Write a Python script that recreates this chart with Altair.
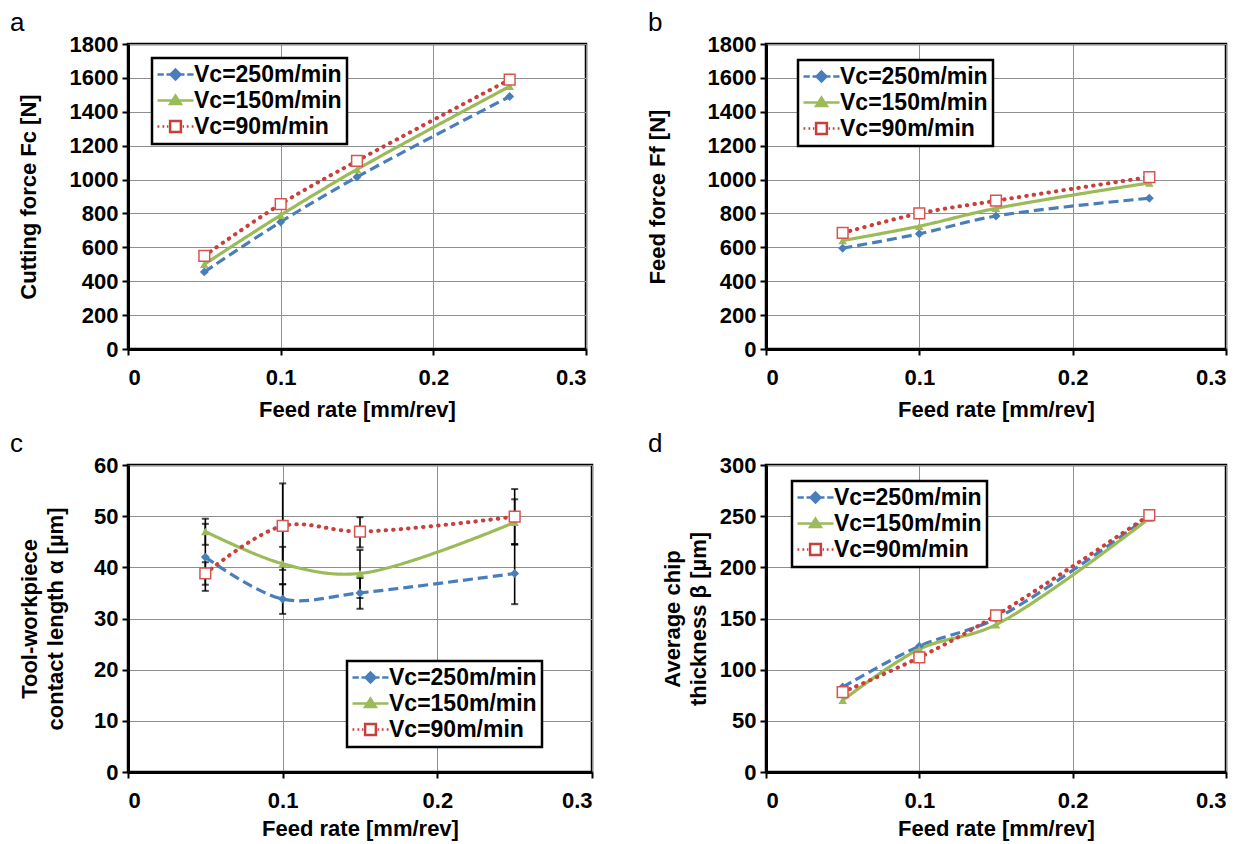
import altair as alt
import pandas as pd

feed = [0.05, 0.1, 0.15, 0.25]
series_names = ["Vc=250m/min", "Vc=150m/min", "Vc=90m/min"]
x_ticks = [0, 0.1, 0.2, 0.3]

# panel a: cutting force Fc [N]
fc_250 = [455, 750, 1015, 1490]
fc_150 = [500, 790, 1060, 1550]
fc_90 = [550, 855, 1110, 1590]

# panel b: feed force Ff [N]
ff_250 = [595, 680, 785, 890]
ff_150 = [640, 725, 830, 980]
ff_90 = [685, 800, 875, 1015]

# panel c: contact length [um] with error bars
cl_250 = [42.0, 33.8, 35.0, 38.8]
cl_150 = [47.0, 40.7, 38.8, 48.8]
cl_90 = [38.8, 48.1, 47.0, 49.9]
cl_250_lo = [35.4, 30.9, 31.9, 32.8]
cl_250_hi = [48.5, 36.7, 37.9, 44.5]
cl_150_lo = [44.4, 36.7, 34.0, 44.5]
cl_150_hi = [49.5, 44.0, 43.4, 53.3]
cl_90_lo = [36.6, 39.5, 43.9, 44.5]
cl_90_hi = [41.0, 56.4, 49.8, 55.3]

# panel d: average chip thickness [um]
ct_250 = [83, 123, 150, 250]
ct_150 = [70, 120, 144, 248]
ct_90 = [78, 112, 153, 251]

BLUE = "#4A7EBB"
GREEN = "#9BBB59"
RED = "#C8403C"
FONT = "Liberation Sans"

# legend symbols: line + marker paths
P250 = "M-4,0L-2.6,0M-2,0L-1.2,0M1.2,0L2,0M2.6,0L4,0M0,-1.1L1.1,0L0,1.1L-1.1,0Z"
P150 = "M-4,0L4,0M0,-1.1L1.2,0.8L-1.2,0.8Z"
P90 = ("M-4,0L-3.6,0M-2.9,0L-2.5,0M-1.9,0L-1.6,0M1.6,0L1.9,0M2.5,0L2.9,0M3.6,0L4,0"
       "M-1.2,-1.2L1.2,-1.2L1.2,1.2L-1.2,1.2Z")


def long_df(vals, lo=None, hi=None):
    rows = []
    for i, name in enumerate(series_names):
        for j, f in enumerate(feed):
            r = {"feed": f, "value": vals[i][j], "series": name}
            if lo is not None:
                r["lo"] = lo[i][j]
                r["hi"] = hi[i][j]
            rows.append(r)
    return pd.DataFrame(rows)


def make_panel(df, ytitle, ymax, ystep, letter, lx, ly, title_x, xtitle_y,
               width, height, has_err=False):
    xscale = alt.Scale(domain=[0, 0.3], nice=False, zero=True)
    yscale = alt.Scale(domain=[0, ymax], nice=False, zero=True)
    xaxis = alt.Axis(values=x_ticks, format="~g", title="Feed rate [mm/rev]",
                     titleY=xtitle_y, titleBaseline="middle", labelPadding=12,
                     grid=True)
    yticks = list(range(0, ymax + 1, ystep))
    yaxis = alt.Axis(values=yticks, format="d", title=ytitle, titleX=title_x,
                     titleBaseline="middle", labelPadding=4, grid=True)
    x = alt.X("feed:Q", scale=xscale, axis=xaxis)
    y = alt.Y("value:Q", scale=yscale, axis=yaxis)

    base = alt.Chart(df)
    layers = []
    if has_err:
        ylo = alt.Y("lo:Q", scale=yscale, axis=yaxis)
        layers.append(base.mark_rule(color="black", strokeWidth=1.6).encode(
            x=x, y=ylo, y2=alt.Y2("hi:Q")))
        layers.append(base.mark_tick(color="black", thickness=2, size=7,
                                     orient="horizontal").encode(x=x, y=ylo))
        layers.append(base.mark_tick(color="black", thickness=2, size=7,
                                     orient="horizontal").encode(
            x=x, y=alt.Y("hi:Q", scale=yscale, axis=yaxis)))

    styles = {
        "Vc=250m/min": dict(color=BLUE, strokeDash=[10, 5], strokeCap="butt", w=3.2),
        "Vc=150m/min": dict(color=GREEN, strokeDash=[1, 0], strokeCap="butt", w=3.2),
        "Vc=90m/min": dict(color=RED, strokeDash=[0.5, 7], strokeCap="round", w=4),
    }
    for name in series_names:
        s = styles[name]
        layers.append(base.transform_filter(alt.datum.series == name).mark_line(
            color=s["color"], strokeDash=s["strokeDash"], strokeCap=s["strokeCap"],
            strokeWidth=s["w"], interpolate="catmull-rom").encode(x=x, y=y))
    layers.append(base.transform_filter(alt.datum.series == series_names[0]).mark_point(
        shape="diamond", filled=True, color=BLUE, size=80, opacity=1).encode(x=x, y=y))
    layers.append(base.transform_filter(alt.datum.series == series_names[1]).mark_point(
        shape="triangle-up", filled=True, color=GREEN, size=75, opacity=1).encode(x=x, y=y))
    layers.append(base.transform_filter(alt.datum.series == series_names[2]).mark_point(
        shape="square", filled=True, fill="white", stroke="#D9534F", strokeWidth=1.5,
        size=115, opacity=1).encode(x=x, y=y))

    leg = alt.Legend(title=None, orient="none", legendX=lx, legendY=ly,
                     strokeColor="black", fillColor="white", padding=5,
                     symbolOffset=7, labelOffset=7, labelFont=FONT,
                     labelFontSize=23, labelFontWeight="bold", labelColor="black",
                     symbolSize=81, symbolStrokeWidth=2.5, rowPadding=2,
                     labelLimit=400, symbolOpacity=1)
    leg_df = pd.DataFrame({"series": series_names})
    layers.append(alt.Chart(leg_df).mark_point(opacity=0).encode(
        x=alt.value(5), y=alt.value(5),
        shape=alt.Shape("series:N", scale=alt.Scale(domain=series_names, range=[P250, P150, P90]), legend=leg),
        stroke=alt.Stroke("series:N", scale=alt.Scale(domain=series_names, range=[BLUE, GREEN, RED]), legend=leg),
        fill=alt.Fill("series:N", scale=alt.Scale(domain=series_names, range=[BLUE, GREEN, "white"]), legend=leg),
    ))

    return alt.layer(*layers).properties(
        width=width, height=height,
        title=alt.Title(letter, anchor="start", frame="group", dx=-118, offset=-24,
                        fontSize=26, fontWeight="normal", font=FONT, color="black",
                        baseline="alphabetic"),
    )


pa = make_panel(long_df([fc_250, fc_150, fc_90]), "Cutting force Fc [N]", 1800, 200,
                "a", 24, 14, -100, 60, 458, 305)
pb = make_panel(long_df([ff_250, ff_150, ff_90]), "Feed force Ff [N]", 1800, 200,
                "b", 32, 16, -109, 60, 460, 305)
pc = make_panel(long_df([cl_250, cl_150, cl_90],
                        [cl_250_lo, cl_150_lo, cl_90_lo],
                        [cl_250_hi, cl_150_hi, cl_90_hi]),
                ["Tool-workpiece", "contact length α [µm]"], 60, 10,
                "c", 219, 196, -99, 56, 464, 307, has_err=True)
pd_ = make_panel(long_df([ct_250, ct_150, ct_90]),
                 ["Average chip", "thickness β [µm]"], 300, 50,
                 "d", 26, 16, -94, 56, 460, 307)

chart = alt.concat(pa, pb, pc, pd_, columns=2,
                   spacing={"row": 116, "column": 174}, bounds="flush").resolve_scale(
    shape="independent", fill="independent", stroke="independent"
).properties(
    padding={"left": 0, "top": 0, "right": 5, "bottom": 2}
).configure_axis(
    domainColor="black", domainWidth=3, tickColor="black", tickWidth=2, tickSize=6,
    gridColor="#8f8f8f", gridWidth=1, labelFont=FONT, labelFontSize=22,
    labelFontWeight="bold", labelColor="black", titleFont=FONT, titleFontSize=22,
    titleFontWeight="bold", titleColor="black", titleLineHeight=26,
).configure_view(stroke="black", strokeWidth=2.5).configure_legend(strokeWidth=2.5)

chart.save("out.html", embed_options={"renderer": "svg", "actions": False})
